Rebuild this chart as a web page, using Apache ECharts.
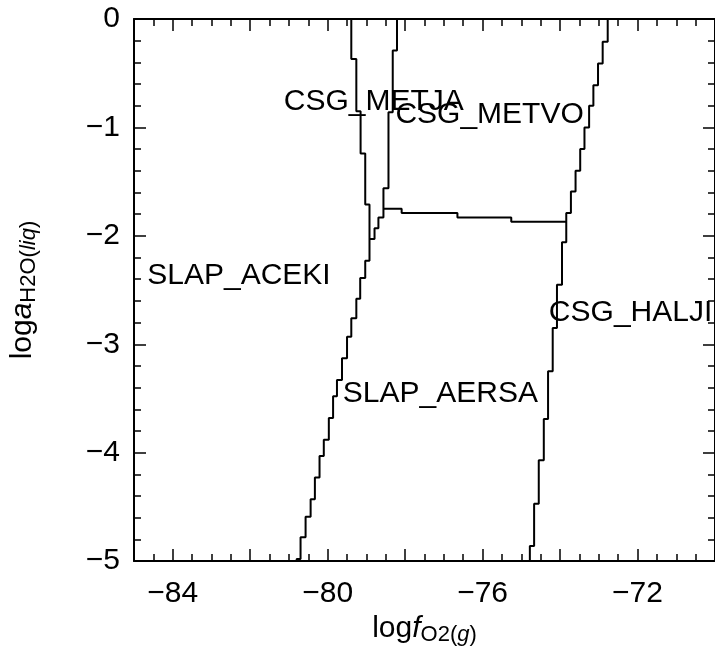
<!DOCTYPE html>
<html>
<head>
<meta charset="utf-8">
<title>logfO2 vs logaH2O</title>
<script src="https://cdn.jsdelivr.net/npm/echarts@6/dist/echarts.min.js"></script>
<style>
  html, body { margin: 0; padding: 0; background: #fff; }
  #chart { width: 715px; height: 651px; }
</style>
</head>
<body>
<div id="chart"></div>
<script>
// field boundaries, each point is a stair corner [logfO2, logaH2O] (drawn with step:'start', vertical first)
const acekiLine = [
  [-80.80, -5], [-80.70, -4.98], [-80.57, -4.78], [-80.44, -4.59], [-80.33, -4.43],
  [-80.21, -4.23], [-80.10, -4.03], [-79.97, -3.88], [-79.86, -3.68], [-79.76, -3.48],
  [-79.63, -3.33], [-79.50, -3.13], [-79.39, -2.93], [-79.26, -2.76], [-79.16, -2.58],
  [-79.03, -2.39], [-78.92, -2.23], [-79.03, -1.71], [-79.15, -1.24], [-79.26, -0.85],
  [-79.39, -0.37], [-79.39, 0]
]
const metjaLine = [
  [-78.21, 0], [-78.32, -0.29], [-78.43, -0.86], [-78.56, -1.56], [-78.69, -1.83],
  [-78.79, -1.93], [-78.92, -2.03]
]
const metvoLine = [
  [-78.56, -1.75], [-78.09, -1.75], [-76.65, -1.79], [-75.26, -1.83], [-73.84, -1.87]
]
const haljiLine = [
  [-72.77, 0], [-72.90, -0.21], [-73.02, -0.41], [-73.14, -0.61], [-73.25, -0.80],
  [-73.37, -1.00], [-73.48, -1.20], [-73.60, -1.40], [-73.72, -1.59], [-73.84, -1.79],
  [-73.95, -2.06], [-74.08, -2.45], [-74.19, -2.85], [-74.31, -3.25], [-74.42, -3.69],
  [-74.55, -4.07], [-74.67, -4.47], [-74.78, -4.86], [-74.78, -5]
]

// field labels
const fieldNames = ['CSG_METJA', 'CSG_METVO', 'SLAP_ACEKI', 'SLAP_AERSA', 'CSG_HALJI']
const fieldX = [-78.81, -75.82, -82.29, -77.09, -72.18]
const fieldY = [-0.76, -0.88, -2.37, -3.46, -2.71]

// ticks
const xTickLabels = [-84, -80, -76, -72]
const xMajorTicks = [-84, -82, -80, -78, -76, -74, -72, -70]
const yTickLabels = [-5, -4, -3, -2, -1, 0]

const font = 'Liberation Sans, Arial, Helvetica, sans-serif'
const black = '#000'

// minus sign like the original
const fmt = v => String(v).replace('-', '\u2212')

// rich text for sub/italic parts of axis titles
const titleRich = {
  m: { fontSize: 30, lineHeight: 34, fontFamily: font, color: black },
  i: { fontSize: 30, lineHeight: 34, fontFamily: font, color: black, fontStyle: 'italic' },
  s: { fontSize: 22, lineHeight: 16, fontFamily: font, color: black, verticalAlign: 'bottom' },
  si: { fontSize: 22, lineHeight: 16, fontFamily: font, color: black, verticalAlign: 'bottom', fontStyle: 'italic' }
}

const chart = echarts.init(document.getElementById('chart'))

const lineStyle = { color: black, width: 2 }
const tickStyle = { color: black, width: 1.5 }

function xAxisOf(position, major, withLabel) {
  const axis = {
    type: 'value', min: -85, max: -70, position: position,
    axisLine: { show: !major, onZero: false, lineStyle: lineStyle },
    splitLine: { show: false },
    axisTick: { show: true, inside: true, length: major ? 12 : 7, lineStyle: tickStyle },
    axisLabel: { show: false }
  }
  if (major) {
    axis.axisTick.customValues = xMajorTicks
  } else {
    axis.interval = 0.5
  }
  if (withLabel) {
    axis.axisLabel = {
      show: true, customValues: xTickLabels, formatter: fmt,
      fontSize: 30, color: black, fontFamily: font, margin: 18
    }
    axis.name = '{m|log}{i|f}{s|O2(}{si|g}{s|)}'
    axis.nameLocation = 'middle'
    axis.nameGap = 47
    axis.nameTextStyle = { rich: titleRich }
  }
  return axis
}

function yAxisOf(position, withLabel) {
  const axis = {
    type: 'value', min: -5, max: 0, interval: 1, position: position,
    axisLine: { show: true, onZero: false, lineStyle: lineStyle },
    splitLine: { show: false },
    axisTick: { show: true, inside: true, length: 12, lineStyle: tickStyle },
    minorTick: { show: true, splitNumber: 5, length: 7, lineStyle: tickStyle },
    axisLabel: { show: false }
  }
  if (withLabel) {
    axis.axisLabel = {
      show: true, customValues: yTickLabels, formatter: fmt,
      fontSize: 30, color: black, fontFamily: font, margin: 14
    }
    axis.name = '{m|log}{i|a}{s|H2O(}{si|liq}{s|)}'
    axis.nameLocation = 'middle'
    axis.nameGap = 94
    axis.nameTextStyle = { rich: titleRich }
  }
  return axis
}

function boundary(data) {
  return {
    type: 'line', data: data, step: 'start', symbol: 'none', silent: true,
    lineStyle: { color: black, width: 2 }
  }
}

chart.setOption({
  animation: false,
  textStyle: { fontFamily: font },
  // right edge of the plot sits just past the canvas, as in the original
  grid: { left: 134, top: 19, width: 585, height: 545 },
  xAxis: [
    xAxisOf('bottom', false, true),
    xAxisOf('bottom', true, false),
    xAxisOf('top', false, false),
    xAxisOf('top', true, false)
  ],
  yAxis: [yAxisOf('left', true), yAxisOf('right', false)],
  series: [
    boundary(acekiLine),
    boundary(metjaLine),
    boundary(metvoLine),
    boundary(haljiLine),
    {
      type: 'scatter', symbolSize: 0, silent: true,
      itemStyle: { opacity: 1 },
      data: fieldNames.map((n, i) => ({ name: n, value: [fieldX[i], fieldY[i]] })),
      label: {
        show: true, position: 'inside', formatter: '{b}',
        fontSize: 30, color: black, opacity: 1, fontFamily: font
      }
    }
  ]
})
</script>
</body>
</html>
